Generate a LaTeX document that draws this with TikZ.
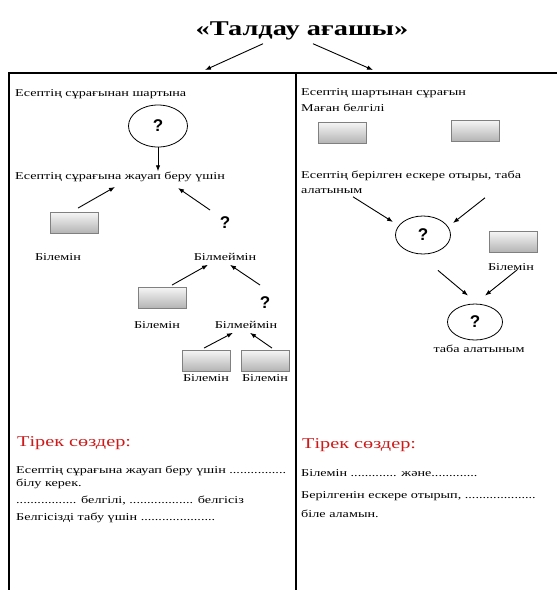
\documentclass[tikz,border=0pt]{standalone}
\usepackage{fontspec}
\setmainfont[FakeStretch=1.35]{Liberation Serif}
\newfontfamily\qfont{Liberation Sans}
\usetikzlibrary{arrows.meta,shapes.geometric,positioning}
\definecolor{hintred}{RGB}{205,25,25}

\begin{document}
\begin{tikzpicture}[x=1pt,y=-1pt,>={Latex[length=6pt,width=4.5pt]},font=\fontsize{10.5}{12}\selectfont]
  \tikzstyle{txt}=[anchor=base west,inner sep=0pt]
  \tikzstyle{lbl}=[anchor=base,inner sep=0pt]
  \tikzstyle{known}=[draw=gray,top color=white!92!gray,bottom color=gray!60,
                     minimum width=48,minimum height=21,inner sep=0pt,line width=0.9pt]
  \tikzstyle{ask}=[draw,ellipse,line width=0.8pt,inner sep=0pt,
                   font=\qfont\bfseries\fontsize{17}{17}\selectfont]
  \tikzstyle{qmark}=[inner sep=0pt,font=\qfont\bfseries\fontsize{17}{17}\selectfont]
  \tikzstyle{hint}=[txt,text=hintred,font=\fontsize{15}{17}\selectfont]
  \tikzstyle{frame}=[line width=1.5pt]
  \tikzstyle{arr}=[->,line width=0.9pt]

  \useasboundingbox (0,0) rectangle (557,590);

  % title and frame
  \node[lbl,font=\bfseries\fontsize{21}{23}\selectfont] (title) at (302,35) {«Талдау ағашы»};
  \coordinate (tl) at (9,73);
  \coordinate (tm) at (296,73);
  \coordinate (tr) at (557,73);
  \draw[frame] (9,590) -- (tl) -- (tr);
  \draw[frame] (tm) -- (296,590);
  \draw[arr] ([shift={(-39,4)}]title.south) -- ([shift={(196,-3)}]tl);
  \draw[arr] ([shift={(11,4)}]title.south) -- ([shift={(364,-3)}]tl);

  % left column
  \node[txt] (t1) at (15,96)  {Есептің сұрағынан шартына};
  \node[ask,minimum width=59,minimum height=42] (q1) at (158,126) {?};
  \node[txt] (t2) at (15,179) {Есептің сұрағына жауап беру үшін};
  \draw[arr] (q1) -- (q1 |- t2.north);

  \node[known] (k1) at (74,223) {};
  \node[qmark] (q2) at (225,223) {?};
  \node[lbl] (l1) at (58,260)  {Білемін};
  \node[lbl] (b1) at (225,260) {Білмеймін};
  \draw[arr] ([shift={(4,-4)}]k1.north) -- ([shift={(100,5.5)}]t2.south west);
  \draw[arr] ([shift={(-15,-13)}]q2.center) -- ([shift={(163,6.5)}]t2.south west);

  \node[known] (k2) at (162,298) {};
  \node[qmark] (q3) at (265,303) {?};
  \node[lbl] (l2) at (157,328) {Білемін};
  \node[lbl] (b2) at (246,328) {Білмеймін};
  \draw[arr] ([shift={(10,-2)}]k2.north) -- ([shift={(-17,4.5)}]b1.south);
  \draw[arr] ([shift={(-5,-18)}]q3.center) -- ([shift={(5,4.5)}]b1.south);

  \node[known] (k3) at (206,361) {};
  \node[known] (k4) at (265,361) {};
  \node[lbl] (l3) at (206,381) {Білемін};
  \node[lbl] (l4) at (265,381) {Білемін};
  \draw[arr] ([shift={(-2,-2)}]k3.north) -- ([shift={(-13,4.5)}]b2.south);
  \draw[arr] ([shift={(7,-2)}]k4.north) -- ([shift={(4,4.5)}]b2.south);

  % right column
  \node[txt] (r1) at (301,95)  {Есептің шартынан сұрағын};
  \node[txt] (r2) at (301,111) {Маған белгілі};
  \node[known] (k5) at (342,133) {};
  \node[known] (k6) at (475,131) {};
  \node[txt] (r3) at (301,178) {Есептің берілген ескере отыры, таба};
  \node[txt] (r4) at (301,193) {алатыным};

  \node[ask,minimum width=55,minimum height=38] (q4) at (423,235) {?};
  \node[known] (k7) at (513,242) {};
  \node[lbl] (l7) at (511,270) {Білемін};
  \draw[arr] ([shift={(52,3.5)}]r4.south west) -- ([shift={(-30,-13)}]q4.center);
  \draw[arr] ([shift={(184,4.5)}]r4.south west) -- ([shift={(30,-12)}]q4.center);

  \node[ask,minimum width=55,minimum height=36] (q5) at (475,322) {?};
  \node[lbl] (l8) at (479,352) {таба алатыным};
  \draw[arr] ([shift={(15,16)}]q4.south) -- ([shift={(-7,-8)}]q5.north);
  \draw[arr] ([shift={(4,17)}]k7.south) -- ([shift={(10,-8)}]q5.north);

  % key words
  \node[hint] (h1) at (17,446) {Тірек сөздер:};
  \node[txt] (s1) at (16,473) {Есептің сұрағына жауап беру үшін ................};
  \node[txt] (s2) at (16,486) {білу керек.};
  \node[txt] (s3) at (16,503) {................. белгілі, .................. белгісіз};
  \node[txt] (s4) at (16,520) {Белгісізді табу үшін .....................};

  \node[hint] (h2) at (302,448) {Тірек сөздер:};
  \node[txt] (p1) at (301,476) {Білемін ............. және.............};
  \node[txt] (p2) at (301,498) {Берілгенін ескере отырып, ....................};
  \node[txt] (p3) at (301,517) {біле аламын.};
\end{tikzpicture}
\end{document}
